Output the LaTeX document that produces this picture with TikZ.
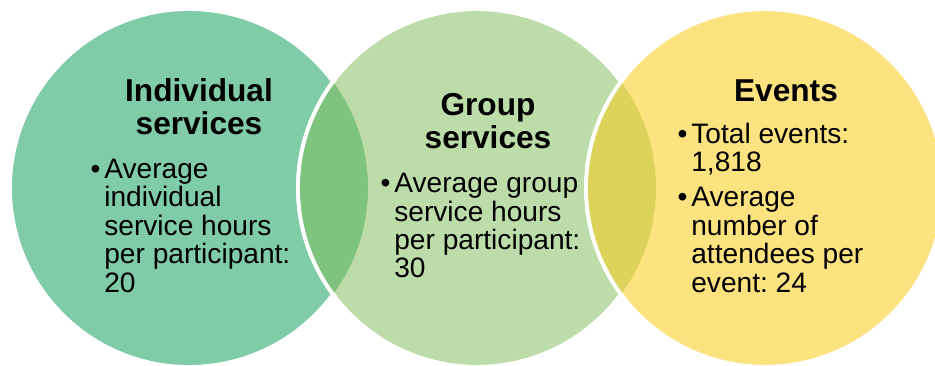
\documentclass[tikz,border=0pt]{standalone}
\usepackage{fontspec}
\setmainfont{Liberation Sans}
\frenchspacing
\definecolor{indivGreen}{RGB}{128, 203, 168}
\definecolor{groupGreen}{RGB}{188, 221, 169}
\definecolor{eventYellow}{RGB}{253, 226, 128}
\definecolor{lensGreen}{RGB}{126, 196, 126}
\definecolor{lensYellow}{RGB}{221, 211, 90}
\usetikzlibrary{positioning}
\newcommand{\bulletmark}{\llap{\textbullet\hspace{0.08cm}}}

\begin{document}
\begin{tikzpicture}[
  ring/.style={circle, minimum size=7.16cm, inner sep=0pt, draw=white, line width=2.2pt},
  rim/.style={white, line width=2.2pt},
  heading/.style={align=center, inner sep=0pt, anchor=base,
                  font=\fontsize{18}{18.8}\selectfont\bfseries},
  body/.style={align=left, inner sep=0pt, anchor=base west,
               font=\fontsize{16}{16.2}\selectfont\frenchspacing},
]
  \clip (0,0) rectangle (18.7,7.3);

  \node[ring, fill=indivGreen] (indiv) at (3.78,3.54) {};
  \node[ring, fill=groupGreen] (group) at (9.54,3.54) {};
  \begin{scope}
    \clip (indiv.center) circle (3.58);
    \fill[lensGreen] (group.center) circle (3.58);
  \end{scope}
  \draw[rim] (group.center) circle (3.58);

  \node[ring, fill=eventYellow] (events) at (15.30,3.54) {};
  \begin{scope}
    \clip (group.center) circle (3.58);
    \fill[lensYellow] (events.center) circle (3.58);
  \end{scope}
  \draw[rim] (events.center) circle (3.58);

  \node[heading] (indivT) at (3.98,4.60) {Individual\\services};
  \node[body] (indivB) at (2.08,1.46) {\bulletmark Average\\individual\\service hours\\per participant:\\20};

  \node[heading] (groupT) at (9.76,4.32) {Group\\services};
  \node[body] (groupB) at (7.88,1.74) {\bulletmark Average group\\service hours\\per participant:\\30};

  \node[heading] (eventsT) at (15.72,5.26) {Events};
  \node[body] (totalB) at (13.82,3.86) {\bulletmark Total events:\\1,818};
  \node[body] (attendB) at (13.82,1.46) {\bulletmark Average\\number of\\attendees per\\event: 24};
\end{tikzpicture}
\end{document}
